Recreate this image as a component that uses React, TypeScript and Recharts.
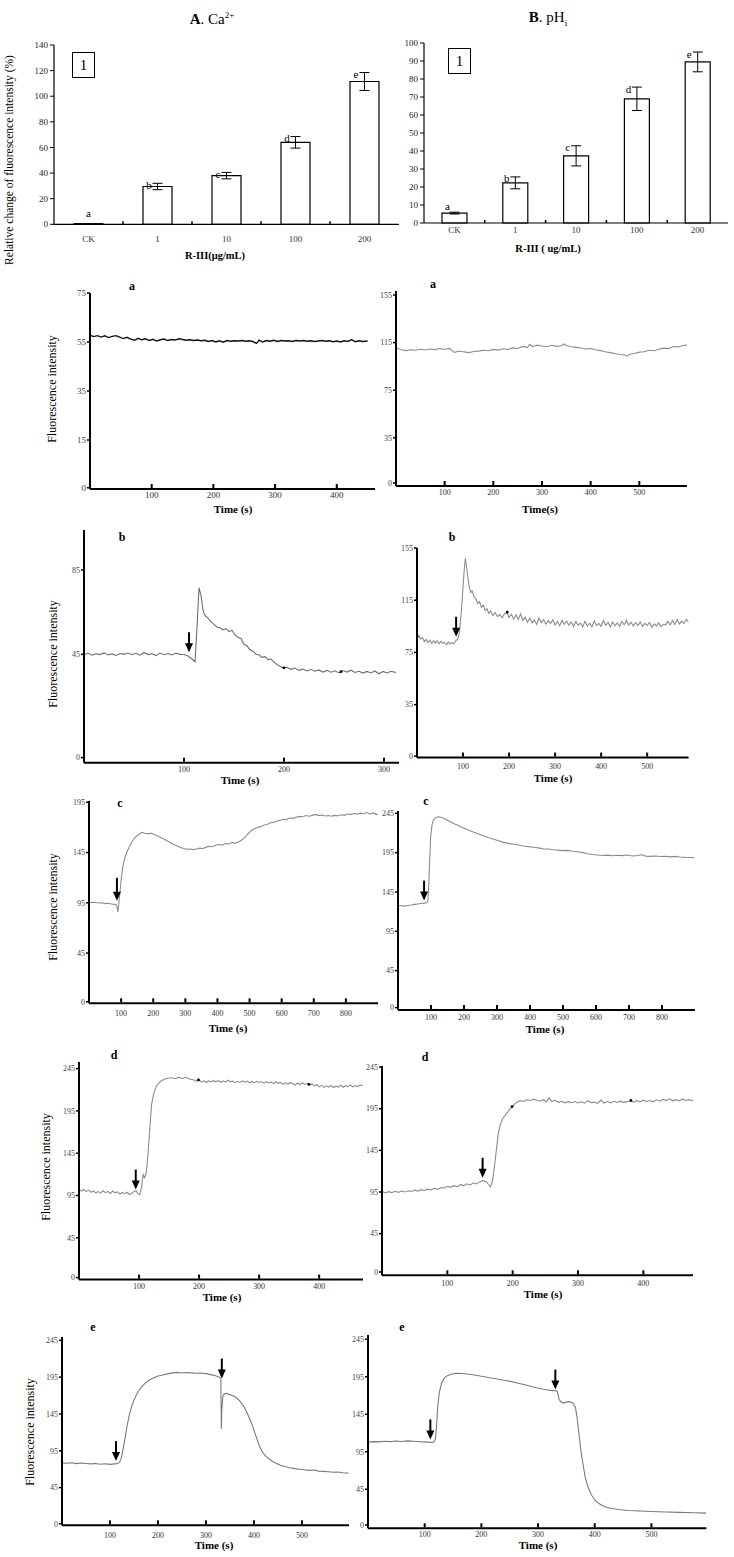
import React from "react";
import {
  BarChart,
  Bar,
  ErrorBar,
  LabelList,
  LineChart,
  Line,
  XAxis,
  YAxis,
  ReferenceDot,
} from "recharts";

const SERIF = '"Liberation Serif", "Times New Roman", serif';

type Pair = [number, number];
type Rect = { x: number; y: number; w: number; h: number };

// ---- dose-response bars (panel 1) ----
const doses = ["CK", "1", "10", "100", "200"];
const sigLetters = ["a", "b", "c", "d", "e"];
const caMeans = [0.5, 29.5, 38, 64, 111.5];
const caErrs = [0, 2.5, 2.5, 4.5, 7];
const phMeans = [5.5, 22.3, 37.3, 69, 89.5];
const phErrs = [0.5, 3.3, 5.6, 6.5, 5.5];
const caBarTicks = [0, 20, 40, 60, 80, 100, 120, 140];
const phBarTicks = [0, 10, 20, 30, 40, 50, 60, 70, 80, 90, 100];

// ---- fluorescence traces: [time (s), intensity] ----
const caTraceA: Pair[] = [
  [0, 57.8], [6, 57.2], [12, 57.6], [18, 57.0], [24, 57.5], [30, 56.8], [36, 57.3], [42, 57.6], [48, 57.0],
  [54, 56.4], [60, 56.9], [66, 56.2], [72, 55.7], [78, 56.5], [84, 55.9], [90, 56.3], [96, 55.6], [102, 56.1],
  [108, 55.4], [114, 55.9], [120, 56.2], [126, 55.6], [132, 56.0], [138, 55.8], [144, 56.3], [150, 56.0],
  [156, 55.7], [162, 55.9], [168, 55.6], [174, 55.8], [180, 55.5], [186, 55.7], [192, 55.2], [198, 55.6],
  [204, 55.0], [210, 55.5], [216, 54.9], [222, 55.6], [228, 55.3], [234, 55.5], [240, 55.4], [246, 55.6],
  [252, 55.3], [258, 55.5], [264, 55.2], [270, 54.4], [274, 55.8], [280, 55.0], [286, 55.6], [292, 55.3],
  [298, 55.7], [304, 55.2], [310, 55.6], [316, 55.4], [322, 55.5], [328, 55.2], [334, 55.6], [340, 55.4],
  [346, 55.6], [352, 55.3], [358, 55.5], [364, 55.2], [370, 55.4], [376, 55.6], [382, 55.3], [388, 55.5],
  [394, 55.1], [400, 55.4], [406, 55.0], [412, 55.5], [418, 55.2], [424, 56.0], [430, 55.1], [436, 55.5],
  [442, 55.2], [450, 55.4],
];

const phTraceA: Pair[] = [
  [0, 110.5], [10, 109.2], [20, 108.3], [30, 109.0], [40, 108.6], [50, 109.4], [60, 108.8], [70, 109.6],
  [80, 109.1], [90, 110.0], [100, 109.4], [110, 110.2], [120, 106.8], [130, 108.0], [140, 107.2], [150, 106.6],
  [160, 107.5], [170, 107.9], [180, 108.6], [190, 108.2], [200, 109.3], [210, 108.7], [220, 109.8], [230, 109.2],
  [240, 110.6], [250, 110.1], [260, 111.8], [270, 110.9], [275, 113.6], [280, 111.6], [290, 112.9], [300, 112.2],
  [310, 111.6], [320, 112.8], [330, 111.9], [340, 112.4], [345, 113.9], [350, 112.6], [360, 111.5], [370, 111.0],
  [380, 110.5], [390, 109.7], [400, 110.0], [410, 109.0], [420, 108.3], [430, 107.4], [440, 106.6], [450, 105.8],
  [460, 105.0], [470, 104.6], [475, 103.8], [480, 105.2], [490, 105.9], [500, 107.0], [510, 107.4], [520, 108.6],
  [530, 108.2], [540, 109.5], [550, 110.4], [560, 110.0], [570, 111.8], [580, 111.4], [590, 112.6], [598, 112.9],
];

const caTraceB: Pair[] = [
  [0, 44.8], [4, 45.6], [8, 44.6], [12, 45.3], [16, 44.9], [20, 45.7], [24, 44.7], [28, 45.2], [32, 44.5],
  [36, 45.4], [40, 45.0], [44, 45.6], [48, 44.8], [52, 45.5], [56, 44.6], [60, 45.9], [64, 44.9], [68, 45.3],
  [72, 44.4], [76, 45.6], [80, 44.8], [84, 45.4], [88, 44.7], [92, 45.6], [96, 45.0], [100, 44.9], [104, 44.2],
  [108, 42.8], [111, 41.5], [113, 58.0], [115, 76.5], [117, 73.0], [119, 66.0], [121, 63.5], [124, 62.2],
  [127, 60.5], [130, 59.2], [133, 58.0], [136, 57.6], [139, 56.6], [142, 57.2], [145, 55.8], [148, 56.4],
  [151, 54.2], [154, 53.0], [157, 52.5], [160, 49.8], [163, 49.0], [166, 47.2], [169, 46.5], [172, 45.0],
  [175, 44.8], [178, 43.6], [181, 43.9], [184, 42.5], [187, 42.8], [190, 41.3], [193, 40.2], [196, 39.4],
  [199, 38.6], [203, 38.9], [207, 37.9], [211, 38.5], [215, 37.4], [219, 38.0], [223, 37.1], [227, 37.8],
  [231, 37.0], [235, 37.6], [239, 36.6], [243, 37.4], [247, 36.5], [251, 37.2], [255, 36.2], [259, 37.3],
  [263, 36.6], [267, 37.5], [271, 36.4], [275, 37.0], [279, 36.1], [283, 36.9], [287, 36.2], [291, 37.1],
  [295, 35.8], [299, 36.9], [303, 36.2], [307, 37.0], [312, 36.4],
];

const phTraceB: Pair[] = [
  [0, 84.5], [4, 88.0], [8, 85.2], [12, 86.4], [16, 83.2], [20, 85.0], [24, 82.6], [28, 84.3], [32, 81.8],
  [36, 83.9], [40, 82.1], [44, 84.0], [48, 81.6], [52, 83.5], [56, 81.9], [60, 82.8], [64, 80.9], [68, 83.1],
  [72, 81.4], [76, 82.5], [80, 81.6], [84, 83.8], [88, 85.0], [92, 90.0], [96, 105.0], [100, 125.0], [103, 140.0],
  [105, 147.0], [108, 140.0], [111, 131.0], [114, 124.5], [117, 121.0], [120, 122.0], [124, 117.5], [128, 116.0],
  [132, 112.5], [136, 113.8], [140, 109.5], [144, 111.2], [148, 107.0], [152, 108.5], [156, 104.8], [160, 106.9],
  [165, 103.2], [170, 105.6], [175, 102.4], [180, 104.0], [185, 101.5], [190, 104.6], [196, 105.0], [200, 101.8],
  [205, 104.2], [210, 100.5], [215, 103.8], [220, 100.2], [225, 104.5], [230, 99.6], [235, 102.0], [240, 98.0],
  [245, 101.4], [250, 97.6], [255, 99.8], [260, 96.4], [265, 101.2], [270, 97.8], [275, 100.0], [280, 96.6],
  [285, 99.4], [290, 97.2], [295, 100.1], [300, 96.0], [305, 98.8], [310, 95.4], [315, 99.6], [320, 96.5],
  [325, 98.9], [330, 95.8], [335, 98.3], [340, 94.8], [345, 98.6], [350, 95.9], [355, 97.5], [360, 94.6],
  [365, 98.8], [370, 95.2], [375, 97.4], [380, 94.5], [385, 99.0], [390, 95.7], [395, 97.2], [400, 95.0],
  [405, 99.5], [410, 95.8], [415, 97.9], [420, 94.6], [425, 98.4], [430, 95.4], [435, 97.6], [440, 95.0],
  [445, 98.8], [450, 96.2], [455, 99.6], [460, 96.0], [465, 98.2], [470, 95.3], [475, 97.8], [480, 95.6],
  [485, 98.4], [490, 94.9], [495, 97.3], [500, 95.6], [505, 97.9], [510, 94.2], [515, 96.8], [520, 95.1],
  [525, 97.6], [530, 94.8], [535, 96.5], [540, 95.9], [545, 98.8], [550, 96.0], [555, 99.5], [560, 96.3],
  [565, 100.2], [570, 96.8], [575, 99.0], [580, 97.2], [585, 100.4], [590, 98.0],
];

const caTraceC: Pair[] = [
  [0, 95.8], [10, 95.2], [20, 95.6], [30, 94.8], [40, 95.1], [50, 94.2], [60, 94.6], [70, 93.8], [80, 93.4],
  [86, 92.6], [90, 86.0], [93, 95.0], [96, 104.0], [100, 118.0], [105, 130.0], [110, 138.0], [118, 145.5],
  [126, 151.0], [135, 156.5], [145, 160.5], [155, 163.0], [165, 165.2], [175, 164.0], [185, 163.8], [195, 164.2],
  [205, 162.6], [215, 161.4], [225, 159.8], [235, 158.2], [245, 156.2], [255, 154.6], [265, 153.0], [275, 151.6],
  [285, 150.0], [295, 149.0], [305, 148.2], [315, 148.6], [325, 147.9], [335, 148.5], [345, 149.4], [355, 149.0],
  [365, 150.4], [375, 151.2], [385, 150.8], [395, 152.6], [405, 153.0], [415, 152.4], [425, 154.0], [435, 153.6],
  [445, 155.0], [455, 154.4], [465, 155.6], [475, 157.2], [485, 159.8], [495, 163.5], [505, 166.8], [515, 168.6],
  [525, 170.0], [535, 170.8], [545, 172.4], [555, 173.0], [565, 174.6], [575, 175.0], [585, 176.4], [595, 177.0],
  [605, 178.2], [615, 177.8], [625, 179.4], [635, 179.0], [645, 180.2], [655, 181.0], [665, 180.6], [675, 181.8],
  [685, 181.2], [695, 182.0], [705, 183.0], [715, 181.8], [725, 182.4], [735, 181.4], [745, 181.9], [755, 181.2],
  [765, 182.0], [775, 181.6], [785, 182.6], [795, 182.0], [805, 183.4], [815, 182.8], [825, 183.8], [835, 183.2],
  [845, 184.2], [855, 183.6], [865, 184.8], [875, 183.4], [885, 184.4], [895, 182.8], [900, 183.6],
];

const phTraceC: Pair[] = [
  [0, 128.0], [10, 127.5], [20, 127.0], [30, 127.8], [40, 128.4], [50, 129.2], [60, 129.8], [70, 130.4],
  [80, 130.8], [86, 131.2], [90, 132.5], [93, 150.0], [96, 185.0], [99, 215.0], [103, 230.0], [108, 236.5],
  [114, 239.5], [122, 240.5], [130, 240.0], [140, 238.4], [150, 236.2], [160, 234.0], [170, 231.8], [180, 230.0],
  [190, 227.8], [200, 226.0], [215, 223.4], [230, 220.8], [245, 218.6], [260, 216.0], [275, 213.8], [290, 212.0],
  [305, 210.0], [320, 208.0], [335, 206.8], [350, 205.6], [365, 204.6], [380, 203.4], [395, 202.6], [410, 201.8],
  [425, 201.0], [440, 199.8], [455, 199.6], [470, 198.6], [485, 198.2], [500, 197.6], [515, 197.8], [530, 196.8],
  [545, 196.2], [560, 195.0], [575, 193.6], [590, 192.6], [605, 192.0], [620, 191.4], [635, 191.8], [650, 191.0],
  [665, 191.6], [680, 191.2], [695, 192.0], [710, 190.8], [725, 191.4], [740, 192.2], [750, 190.6], [765, 190.2],
  [780, 190.8], [795, 190.0], [810, 190.4], [825, 189.6], [840, 190.2], [855, 189.4], [870, 189.0], [885, 188.8],
  [897, 188.6],
];

const caTraceD: Pair[] = [
  [0, 102.0], [4, 100.2], [8, 102.4], [12, 99.6], [16, 101.4], [20, 98.8], [24, 100.4], [28, 98.2], [32, 99.6],
  [36, 97.8], [40, 100.6], [44, 98.4], [48, 99.8], [52, 97.4], [56, 100.2], [60, 98.0], [64, 99.2], [68, 96.8],
  [72, 98.6], [76, 97.2], [80, 98.8], [84, 96.2], [88, 97.6], [92, 99.8], [95, 100.6], [98, 97.2], [101, 96.0],
  [104, 104.0], [107, 120.5], [109, 116.0], [111, 118.5], [113, 128.0], [115, 145.0], [117, 165.0], [119, 185.0],
  [121, 203.0], [124, 214.0], [127, 221.0], [131, 226.5], [136, 230.0], [142, 232.4], [148, 233.6], [154, 234.2],
  [160, 233.0], [166, 234.6], [172, 233.4], [178, 234.8], [184, 232.6], [190, 231.8], [196, 230.2], [200, 231.6],
  [204, 229.0], [208, 230.6], [212, 228.6], [216, 230.4], [220, 229.2], [224, 231.0], [228, 229.4], [232, 230.8],
  [236, 228.8], [240, 230.4], [244, 229.0], [248, 231.2], [252, 229.6], [256, 230.2], [260, 228.4], [264, 230.0],
  [268, 228.6], [272, 230.6], [276, 229.0], [280, 230.2], [284, 228.2], [288, 229.8], [292, 228.4], [296, 230.0],
  [300, 228.6], [304, 229.4], [308, 227.8], [312, 229.6], [316, 228.0], [320, 229.0], [324, 227.2], [328, 229.2],
  [332, 227.6], [336, 228.8], [340, 226.4], [344, 228.2], [348, 226.8], [352, 228.6], [356, 227.2], [360, 225.6],
  [364, 227.8], [368, 226.2], [372, 228.0], [376, 226.6], [380, 227.4], [384, 225.8], [388, 226.6], [392, 224.6],
  [396, 226.2], [400, 223.4], [404, 225.2], [408, 222.8], [412, 224.6], [416, 223.0], [420, 225.0], [424, 222.6],
  [428, 224.2], [432, 223.2], [436, 225.4], [440, 223.0], [444, 224.8], [448, 223.6], [452, 225.6], [456, 223.4],
  [460, 225.0], [464, 223.8], [468, 225.6], [473, 224.8],
];

const phTraceD: Pair[] = [
  [0, 95.6], [5, 93.8], [10, 95.4], [15, 94.2], [20, 95.8], [25, 94.6], [30, 96.2], [35, 95.0], [40, 96.4],
  [45, 95.6], [50, 97.2], [55, 96.0], [60, 97.8], [65, 96.8], [70, 98.4], [75, 97.6], [80, 99.4], [85, 98.2],
  [90, 100.4], [95, 99.6], [100, 101.8], [105, 100.6], [110, 102.6], [115, 101.4], [120, 103.8], [125, 102.6],
  [130, 104.8], [135, 103.4], [140, 106.0], [145, 104.6], [150, 107.4], [155, 108.6], [160, 106.8], [163, 104.0],
  [166, 101.0], [169, 108.0], [172, 125.0], [175, 145.0], [178, 165.0], [181, 176.0], [185, 183.5], [190, 188.5],
  [195, 194.0], [199, 196.5], [203, 200.5], [207, 203.0], [212, 204.6], [217, 203.6], [222, 206.0], [227, 204.8],
  [232, 206.4], [237, 205.0], [242, 204.0], [247, 205.8], [252, 203.4], [256, 208.0], [260, 203.6], [265, 205.0],
  [270, 202.6], [275, 203.8], [280, 202.0], [285, 203.4], [290, 202.2], [295, 203.6], [300, 201.8], [305, 203.2],
  [310, 201.6], [315, 204.6], [320, 202.2], [325, 203.0], [330, 201.4], [335, 205.4], [340, 201.8], [345, 203.6],
  [350, 202.0], [355, 203.8], [360, 202.4], [365, 204.0], [370, 202.6], [375, 203.4], [380, 204.4], [385, 202.8],
  [390, 204.6], [395, 203.0], [400, 205.2], [405, 203.6], [410, 204.8], [415, 203.2], [420, 205.6], [425, 204.0],
  [430, 206.4], [435, 204.6], [440, 206.8], [445, 204.4], [450, 205.8], [455, 204.2], [460, 206.6], [465, 204.8],
  [470, 205.8], [476, 204.6],
];

const caTraceE: Pair[] = [
  [0, 78.6], [10, 78.0], [20, 78.8], [30, 77.6], [40, 78.4], [50, 77.8], [60, 77.2], [70, 77.8], [80, 76.8],
  [90, 77.4], [100, 76.6], [110, 77.2], [116, 77.6], [120, 79.5], [124, 86.0], [128, 100.0], [132, 115.0],
  [136, 130.0], [140, 143.0], [145, 155.0], [150, 164.0], [155, 171.0], [160, 176.5], [165, 181.0], [170, 184.5],
  [175, 187.6], [180, 190.2], [185, 192.2], [190, 193.8], [195, 195.0], [200, 196.6], [210, 197.8], [220, 199.4],
  [230, 200.8], [240, 201.4], [250, 200.6], [260, 201.2], [270, 200.8], [280, 200.2], [290, 200.6], [300, 199.8],
  [310, 198.4], [320, 196.8], [328, 195.0], [331, 193.0], [332, 125.0], [333, 150.0], [335, 168.0], [338, 172.6],
  [342, 173.0], [348, 171.6], [355, 170.0], [362, 167.6], [370, 163.0], [378, 156.0], [386, 146.0], [394, 134.0],
  [400, 123.0], [406, 111.0], [412, 100.5], [418, 93.0], [424, 88.0], [430, 84.6], [438, 80.8], [446, 78.0],
  [455, 75.4], [465, 73.6], [475, 72.0], [485, 70.8], [495, 70.0], [505, 69.2], [515, 68.4], [525, 68.8],
  [535, 67.4], [545, 67.0], [555, 66.6], [565, 65.8], [575, 66.2], [585, 65.2], [597, 64.6],
];

const phTraceE: Pair[] = [
  [0, 108.0], [10, 108.6], [20, 108.2], [30, 109.0], [40, 108.6], [50, 109.4], [60, 108.8], [70, 109.6],
  [80, 109.0], [90, 108.4], [100, 108.2], [110, 107.6], [116, 107.8], [119, 112.0], [121, 130.0], [123, 155.0],
  [126, 175.0], [130, 187.0], [135, 193.5], [140, 196.5], [148, 198.6], [156, 199.6], [165, 199.4], [175, 198.8],
  [185, 197.8], [195, 196.4], [205, 195.0], [215, 193.6], [225, 192.4], [235, 191.0], [245, 189.8], [255, 188.2],
  [265, 186.4], [275, 184.6], [285, 182.6], [295, 180.6], [305, 179.0], [315, 177.8], [325, 176.6], [330, 176.8],
  [334, 175.4], [337, 165.0], [340, 162.0], [345, 160.0], [350, 161.2], [356, 161.8], [362, 159.8], [366, 154.0],
  [369, 140.0], [372, 120.0], [375, 100.0], [379, 80.0], [383, 62.0], [388, 48.0], [394, 37.6], [400, 30.8],
  [408, 25.6], [418, 21.6], [430, 19.4], [445, 17.8], [460, 16.8], [480, 16.0], [500, 15.4], [525, 14.8],
  [550, 14.2], [575, 13.8], [597, 13.2],
];

// drug-addition arrows (tip position) and stray marker dots
const caArrowsB: Pair[] = [[105, 46]];
const phArrowsB: Pair[] = [[85, 87]];
const caArrowsC: Pair[] = [[87, 97]];
const phArrowsC: Pair[] = [[79, 134]];
const caArrowsD: Pair[] = [[94.5, 102]];
const phArrowsD: Pair[] = [[154, 112]];
const caArrowsE: Pair[] = [[112.5, 81], [333, 193]];
const phArrowsE: Pair[] = [[110, 111.5], [330.5, 178]];
const caDotsB: Pair[] = [[200, 38.6], [257, 36.8]];
const phDotsB: Pair[] = [[196, 105.8]];
const caDotsD: Pair[] = [[199, 231.6], [383, 226.4]];
const phDotsD: Pair[] = [[199, 197.5], [381, 204.8]];

type PanelSpec = {
  rect: Rect;
  xDomain: [number, number];
  xTicks: number[];
  yDomain: [number, number];
  yTicks: number[];
  zeroTick: number;
  trace: Pair[];
  color: string;
  width?: number;
  arrows?: Pair[];
  arrowLen?: number;
  dots?: Pair[];
  labelOff: number;
  fs: number;
};

const panels: PanelSpec[] = [
  {
    rect: { x: 90, y: 293, w: 285, h: 196 },
    xDomain: [0, 462], xTicks: [100, 200, 300, 400],
    yDomain: [-5, 75], yTicks: [-4.5, 15, 35, 55, 75], zeroTick: -4.5,
    trace: caTraceA, color: "#111", width: 1.4, labelOff: 6, fs: 9,
  },
  {
    rect: { x: 396, y: 291, w: 291, h: 195 },
    xDomain: [0, 598], xTicks: [100, 200, 300, 400, 500],
    yDomain: [-5.5, 158.4], yTicks: [-3, 35, 75, 115, 155], zeroTick: -3,
    trace: phTraceA, color: "#8c8c8c", labelOff: 6, fs: 8,
  },
  {
    rect: { x: 84, y: 530, w: 315, h: 232.7 },
    xDomain: [0, 315], xTicks: [100, 200, 300],
    yDomain: [-6.4, 104], yTicks: [-4, 45, 85], zeroTick: -4,
    trace: caTraceB, color: "#6e6e6e", arrows: caArrowsB, dots: caDotsB, labelOff: 7, fs: 8,
  },
  {
    rect: { x: 416.7, y: 547.7, w: 271.6, h: 209.6 },
    xDomain: [0, 590], xTicks: [100, 200, 300, 400, 500],
    yDomain: [-5.6, 155], yTicks: [-4.5, 35, 75, 115, 155], zeroTick: -4.5,
    trace: phTraceB, color: "#8c8c8c", arrows: phArrowsB, dots: phDotsB, labelOff: 9, fs: 8,
  },
  {
    rect: { x: 89, y: 801, w: 289, h: 202.3 },
    xDomain: [0, 900], xTicks: [100, 200, 300, 400, 500, 600, 700, 800],
    yDomain: [-5, 196.3], yTicks: [-3.5, 45, 95, 145, 195], zeroTick: -3.5,
    trace: caTraceC, color: "#8c8c8c", arrows: caArrowsC, arrowLen: 23, labelOff: 10, fs: 8,
  },
  {
    rect: { x: 398, y: 811, w: 297, h: 199 },
    xDomain: [0, 900], xTicks: [100, 200, 300, 400, 500, 600, 700, 800],
    yDomain: [-5, 247.9], yTicks: [-2, 45, 95, 145, 195, 245], zeroTick: -2,
    trace: phTraceC, color: "#8c8c8c", arrows: phArrowsC, labelOff: 7, fs: 8,
  },
  {
    rect: { x: 79, y: 1061.7, w: 284, h: 217.6 },
    xDomain: [0, 473], xTicks: [100, 200, 300, 400],
    yDomain: [-4.4, 252.8], yTicks: [-2, 45, 95, 145, 195, 245], zeroTick: -2,
    trace: caTraceD, color: "#8c8c8c", arrows: caArrowsD, dots: caDotsD, labelOff: 7, fs: 8,
  },
  {
    rect: { x: 382, y: 1065.7, w: 311, h: 209.3 },
    xDomain: [0, 476], xTicks: [100, 200, 300, 400],
    yDomain: [-5, 246.2], yTicks: [-1, 45, 95, 145, 195, 245], zeroTick: -1,
    trace: phTraceD, color: "#8c8c8c", arrows: phArrowsD, dots: phDotsD, labelOff: 8, fs: 8,
  },
  {
    rect: { x: 61.5, y: 1336.7, w: 287, h: 188.3 },
    xDomain: [0, 598], xTicks: [100, 200, 300, 400, 500],
    yDomain: [-6.2, 249.5], yTicks: [-4, 45, 95, 145, 195, 245], zeroTick: -4,
    trace: caTraceE, color: "#7a7a7a", arrows: caArrowsE, labelOff: 10, fs: 8,
  },
  {
    rect: { x: 368.3, y: 1335, w: 338.4, h: 193.3 },
    xDomain: [0, 597], xTicks: [100, 200, 300, 400, 500],
    yDomain: [-7, 250.7], yTicks: [-2.5, 45, 95, 145, 195, 245], zeroTick: -2.5,
    trace: phTraceE, color: "#7a7a7a", arrows: phArrowsE, labelOff: 6, fs: 8,
  },
];

function Txt({
  x, y, size, bold, rotate, children,
}: { x: number; y: number; size: number; bold?: boolean; rotate?: boolean; children: React.ReactNode }) {
  return (
    <div
      style={{
        position: "absolute",
        left: x,
        top: y,
        transform: `translate(-50%, -50%)${rotate ? " rotate(-90deg)" : ""}`,
        fontSize: size,
        fontWeight: bold ? 700 : 400,
        whiteSpace: "nowrap",
        lineHeight: 1,
        fontFamily: SERIF,
        color: "#000",
      }}
    >
      {children}
    </div>
  );
}

function TimeTick(props: any) {
  const { x, y, payload, lift, fs } = props;
  const axisY = y - lift;
  return (
    <g>
      <line x1={x} x2={x} y1={axisY - 1} y2={axisY - 5} stroke="#000" strokeWidth={2} />
      <text x={x} y={y} dy="0.71em" textAnchor="middle" fontSize={fs} fill="#333" fontFamily={SERIF}>
        {payload.value}
      </text>
    </g>
  );
}

const arrowShape = (len: number) => (p: any) => {
  const { cx, cy } = p;
  return (
    <g>
      <line x1={cx} x2={cx} y1={cy - len} y2={cy - 7} stroke="#000" strokeWidth={2} />
      <polygon points={`${cx - 4},${cy - 9} ${cx + 4},${cy - 9} ${cx},${cy}`} fill="#000" />
    </g>
  );
};

function TracePanel({ spec }: { spec: PanelSpec }) {
  const { rect } = spec;
  const yw = 30;
  const mt = 10;
  const mr = 10;
  const xh = 24;
  const tickSize = 2;
  const tickMargin = Math.max(spec.labelOff - 5, 0);
  const data = spec.trace.map(([t, v]) => ({ t, v }));
  return (
    <div style={{ position: "absolute", left: rect.x - yw, top: rect.y - mt }}>
      <LineChart
        width={rect.w + yw + mr}
        height={rect.h + mt + xh}
        data={data}
        margin={{ top: mt, right: mr, left: 0, bottom: 0 }}
      >
        <XAxis
          dataKey="t"
          type="number"
          domain={spec.xDomain}
          ticks={spec.xTicks}
          interval={0}
          allowDataOverflow
          height={xh}
          axisLine={{ stroke: "#000", strokeWidth: 2 }}
          tickLine={false}
          tickSize={tickSize}
          tickMargin={tickMargin}
          tick={(p: any) => <TimeTick {...p} lift={tickSize + tickMargin} fs={spec.fs} />}
        />
        <YAxis
          type="number"
          domain={spec.yDomain}
          ticks={spec.yTicks}
          interval={0}
          allowDataOverflow
          width={yw}
          axisLine={{ stroke: "#000", strokeWidth: 2 }}
          tickLine={{ stroke: "#000", strokeWidth: 1.5 }}
          tickSize={3}
          tickMargin={1}
          tick={{ fontSize: spec.fs, fill: "#444", fontFamily: SERIF }}
          tickFormatter={(v: number) => (v === spec.zeroTick ? "0" : String(v))}
        />
        <Line
          dataKey="v"
          type="linear"
          stroke={spec.color}
          strokeWidth={spec.width ?? 1.1}
          dot={false}
          isAnimationActive={false}
        />
        {(spec.arrows ?? []).map(([t, v], i) => (
          <ReferenceDot
            key={`arrow-${i}`}
            x={t}
            y={v}
            r={3}
            ifOverflow="visible"
            shape={arrowShape(spec.arrowLen ?? 20)}
          />
        ))}
        {(spec.dots ?? []).map(([t, v], i) => (
          <ReferenceDot key={`dot-${i}`} x={t} y={v} r={1.4} fill="#000" stroke="none" />
        ))}
      </LineChart>
    </div>
  );
}

function DoseTick(props: any) {
  const { x, y, payload, index, lift, band } = props;
  const axisY = y - lift;
  return (
    <g>
      {index < doses.length - 1 && (
        <line x1={x + band / 2} x2={x + band / 2} y1={axisY} y2={axisY - 3} stroke="#000" strokeWidth={1.5} />
      )}
      <text x={x} y={y} dy="0.71em" textAnchor="middle" fontSize={9} fill="#333" fontFamily={SERIF}>
        {payload.value}
      </text>
    </g>
  );
}

function DoseBars(props: {
  means: number[];
  errs: number[];
  yTicks: number[];
  rect: Rect;
  barSize: number;
  labelOff: number;
  firstDx: number;
  firstDy: number;
}) {
  const { rect, means, errs } = props;
  const yw = 30;
  const mt = 10;
  const mr = 4;
  const xh = 26;
  const band = rect.w / doses.length;
  const tickMargin = props.labelOff - 6;
  const lift = 2 + tickMargin;
  const data = doses.map((d, i) => ({ dose: d, mean: means[i], err: errs[i], sig: sigLetters[i] }));

  const letter = (p: any) => {
    const i = sigLetters.indexOf(p.value);
    const cx = p.x + p.width / 2;
    let lx = cx - 8.5;
    let ly = p.y - (means[i] > 0 ? (errs[i] / means[i]) * p.height : 0) + 3;
    if (i === 0) {
      lx = cx + props.firstDx;
      ly = p.y + props.firstDy;
    }
    return (
      <text x={lx} y={ly} textAnchor="middle" dominantBaseline="middle" fontSize={11} fontFamily={SERIF} fill="#000">
        {p.value}
      </text>
    );
  };

  return (
    <div style={{ position: "absolute", left: rect.x - yw, top: rect.y - mt }}>
      <BarChart
        width={rect.w + yw + mr}
        height={rect.h + mt + xh}
        data={data}
        margin={{ top: mt, right: mr, left: 0, bottom: 0 }}
      >
        <XAxis
          dataKey="dose"
          height={xh}
          interval={0}
          axisLine={{ stroke: "#000", strokeWidth: 1.2 }}
          tickLine={false}
          tickSize={2}
          tickMargin={tickMargin}
          tick={(p: any) => <DoseTick {...p} lift={lift} band={band} />}
        />
        <YAxis
          type="number"
          domain={[props.yTicks[0], props.yTicks[props.yTicks.length - 1]]}
          ticks={props.yTicks}
          interval={0}
          width={yw}
          axisLine={{ stroke: "#000", strokeWidth: 1.2 }}
          tickLine={{ stroke: "#000" }}
          tickSize={4}
          tickMargin={2}
          tick={{ fontSize: 9, fill: "#222", fontFamily: SERIF }}
        />
        <Bar
          dataKey="mean"
          fill="#fff"
          stroke="#000"
          strokeWidth={1.2}
          barSize={props.barSize}
          isAnimationActive={false}
        >
          <ErrorBar dataKey="err" width={5} stroke="#000" strokeWidth={1} isAnimationActive={false} />
          <LabelList dataKey="sig" content={letter} />
        </Bar>
      </BarChart>
    </div>
  );
}

function NumBox({ x, y }: { x: number; y: number }) {
  return (
    <div
      style={{
        position: "absolute",
        left: x,
        top: y,
        width: 21,
        height: 24,
        border: "1px solid #000",
        fontSize: 15,
        fontFamily: SERIF,
        lineHeight: "24px",
        textAlign: "center",
      }}
    >
      1
    </div>
  );
}

const FI = "Fluorescence intensity";

export default function App() {
  return (
    <div
      style={{
        position: "absolute",
        left: 0,
        top: 0,
        width: 734,
        height: 1557,
        background: "#fff",
        overflow: "hidden",
        fontFamily: SERIF,
      }}
    >
      {/* panel 1: dose response */}
      <Txt x={212} y={19} size={15}>
        <b>A</b>. Ca<sup style={{ fontSize: 9 }}>2+</sup>
      </Txt>
      <Txt x={548} y={19} size={15}>
        <b>B</b>. pH<sub style={{ fontSize: 9 }}>i</sub>
      </Txt>
      <Txt x={10} y={160} size={11.5} rotate>
        Relative change of fluorescence intensity (%)
      </Txt>
      <DoseBars
        means={caMeans}
        errs={caErrs}
        yTicks={caBarTicks}
        rect={{ x: 54, y: 45, w: 345, h: 179.3 }}
        barSize={29}
        labelOff={15}
        firstDx={0}
        firstDy={-9}
      />
      <DoseBars
        means={phMeans}
        errs={phErrs}
        yTicks={phBarTicks}
        rect={{ x: 424, y: 43.3, w: 304, h: 180 }}
        barSize={25}
        labelOff={8}
        firstDx={-7}
        firstDy={-6}
      />
      <NumBox x={72} y={52} />
      <NumBox x={448} y={48} />
      <Txt x={215} y={256} size={10.5} bold>R-III(μg/mL)</Txt>
      <Txt x={548} y={249} size={10.5} bold>R-III ( ug/mL)</Txt>

      {/* traces */}
      {panels.map((p, i) => (
        <TracePanel key={i} spec={p} />
      ))}

      {/* panel letters */}
      <Txt x={132} y={286} size={12} bold>a</Txt>
      <Txt x={433} y={284} size={12} bold>a</Txt>
      <Txt x={122} y={537} size={12} bold>b</Txt>
      <Txt x={452} y={537} size={12} bold>b</Txt>
      <Txt x={120} y={803} size={12} bold>c</Txt>
      <Txt x={426} y={801} size={12} bold>c</Txt>
      <Txt x={114} y={1055} size={12} bold>d</Txt>
      <Txt x={425} y={1057} size={12} bold>d</Txt>
      <Txt x={93} y={1327} size={12} bold>e</Txt>
      <Txt x={402} y={1327} size={12} bold>e</Txt>

      {/* time labels */}
      <Txt x={233} y={509} size={11} bold>Time (s)</Txt>
      <Txt x={540} y={509} size={11} bold>Time(s)</Txt>
      <Txt x={240} y={780} size={11} bold>Time (s)</Txt>
      <Txt x={553} y={778} size={11} bold>Time (s)</Txt>
      <Txt x={228} y={1028} size={11} bold>Time (s)</Txt>
      <Txt x={545} y={1029} size={11} bold>Time (s)</Txt>
      <Txt x={222} y={1297} size={11} bold>Time (s)</Txt>
      <Txt x={543} y={1294} size={11} bold>Time (s)</Txt>
      <Txt x={214} y={1545} size={11} bold>Time (s)</Txt>
      <Txt x={538} y={1545} size={11} bold>Time (s)</Txt>

      {/* y labels */}
      <Txt x={52} y={389} size={12} rotate>{FI}</Txt>
      <Txt x={53} y={654} size={12} rotate>{FI}</Txt>
      <Txt x={53} y={907} size={12} rotate>{FI}</Txt>
      <Txt x={46} y={1167} size={12} rotate>{FI}</Txt>
      <Txt x={30} y={1432} size={12} rotate>{FI}</Txt>
    </div>
  );
}
